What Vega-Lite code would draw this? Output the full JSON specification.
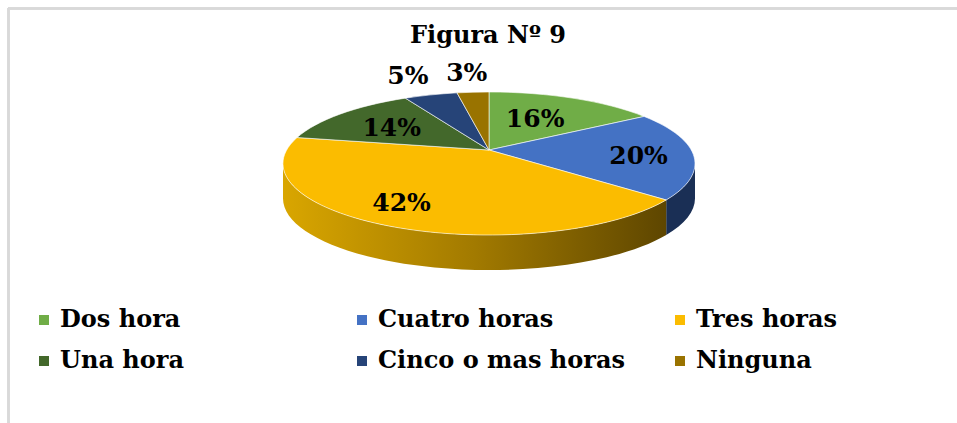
{
"$schema":"https://vega.github.io/schema/vega-lite/v6.json",
"width":957,"height":423,"padding":0,"autosize":{"type":"none"},
"background":"white",
"view":{"stroke":null},
"title":{"text":"Figura Nº 9","font":"DejaVu Serif","fontWeight":"bold","fontSize":24,"color":"#000000","anchor":"start","dx":410,"offset":-67,"baseline":"alphabetic"},
"data":{"values":[
{"ord":1,"name":"Dos hora","value":16},
{"ord":2,"name":"Cuatro horas","value":20},
{"ord":3,"name":"Tres horas","value":42},
{"ord":4,"name":"Una hora","value":14},
{"ord":5,"name":"Cinco o mas horas","value":5},
{"ord":6,"name":"Ninguna","value":3}
]},
"transform":[
{"window":[{"op":"sum","field":"value","as":"cum"}],"sort":[{"field":"ord"}]},
{"calculate":"(datum.cum-datum.value)*3.6*PI/180","as":"t0"},
{"calculate":"datum.cum*3.6*PI/180","as":"t1"},
{"calculate":"round(100*202.3*sin(datum.t0)/(1+0.1888*cos(datum.t0)))/100","as":"x0"},
{"calculate":"round(-100*68.95*cos(datum.t0)/(1+0.1888*cos(datum.t0)))/100","as":"y0"},
{"calculate":"round(100*202.3*sin(datum.t1)/(1+0.1888*cos(datum.t1)))/100","as":"x1"},
{"calculate":"round(-100*68.95*cos(datum.t1)/(1+0.1888*cos(datum.t1)))/100","as":"y1"},
{"calculate":"'M0,0L'+datum.x0+','+datum.y0+'A206,71.5 0 0 1 '+datum.x1+','+datum.y1+'Z'","as":"wedge"},
{"calculate":"max(datum.t0,100.9*PI/180)","as":"c0"},
{"calculate":"min(datum.t1,259.1*PI/180)","as":"c1"},
{"calculate":"round(100*202.3*sin(datum.c0)/(1+0.1888*cos(datum.c0)))/100","as":"sx0"},
{"calculate":"round(-100*68.95*cos(datum.c0)/(1+0.1888*cos(datum.c0)))/100","as":"sy0"},
{"calculate":"round(100*202.3*sin(datum.c1)/(1+0.1888*cos(datum.c1)))/100","as":"sx1"},
{"calculate":"round(-100*68.95*cos(datum.c1)/(1+0.1888*cos(datum.c1)))/100","as":"sy1"},
{"calculate":"'M'+datum.sx0+','+datum.sy0+'A206,71.5 0 0 1 '+datum.sx1+','+datum.sy1+'L'+datum.sx1+','+(datum.sy1+35)+'A206,71.5 0 0 0 '+datum.sx0+','+(datum.sy0+35)+'Z'","as":"side"},
{"calculate":"(datum.t0+datum.t1)/2","as":"tm"},
{"calculate":"datum.value<10?1.25:0.7","as":"r"},
{"calculate":"202.3*datum.r*sin(datum.tm)/(1+0.1888*datum.r*cos(datum.tm))+{'Dos hora':-15,'Cuatro horas':7,'Tres horas':-19,'Una hora':9,'Cinco o mas horas':-11,'Ninguna':-3}[datum.name]","as":"lx"},
{"calculate":"68.95*datum.r*cos(datum.tm)/(1+0.1888*datum.r*cos(datum.tm))+{'Dos hora':-7,'Cuatro horas':-3,'Tres horas':-3,'Una hora':-4,'Cinco o mas horas':8,'Ninguna':8}[datum.name]","as":"ly"},
{"calculate":"datum.value+'%'","as":"pct"}
],
"layer":[
{"mark":{"type":"rule","color":"#d9d9d9","strokeWidth":2},
 "encoding":{"x":{"datum":-481,"scale":{"domain":[-489,468]},"axis":null},"x2":{"datum":468},"y":{"datum":141.5,"scale":{"domain":[-273,150]},"axis":null}}},
{"mark":{"type":"rule","color":"#d9d9d9","strokeWidth":2},
 "encoding":{"x":{"datum":-480.5,"scale":{"domain":[-489,468]},"axis":null},"y":{"datum":142,"scale":{"domain":[-273,150]},"axis":null},"y2":{"datum":-273}}},
{"transform":[{"filter":"datum.name==='Cuatro horas'"}],
 "mark":{"type":"point","filled":true,"opacity":1,"size":4,"fill":"#1a2f55"},
 "encoding":{"x":{"datum":0,"scale":{"domain":[-489,468]},"axis":null},"y":{"datum":0,"scale":{"domain":[-273,150]},"axis":null},"shape":{"field":"side","type":"nominal","scale":null}}},
{"transform":[{"filter":"datum.name==='Tres horas'"}],
 "mark":{"type":"point","filled":true,"opacity":1,"size":4,
  "fill":{"gradient":"linear","x1":0,"x2":1,"y1":0,"y2":0,"stops":[{"offset":0,"color":"#d9a600"},{"offset":0.5,"color":"#a27a00"},{"offset":1,"color":"#5e4600"}]}},
 "encoding":{"x":{"datum":0,"scale":{"domain":[-489,468]},"axis":null},"y":{"datum":0,"scale":{"domain":[-273,150]},"axis":null},"shape":{"field":"side","type":"nominal","scale":null}}},
{"mark":{"type":"point","filled":true,"opacity":1,"size":4,"stroke":"#ffffff","strokeWidth":0.7,"strokeOpacity":0.85},
 "encoding":{"x":{"datum":0,"scale":{"domain":[-489,468]},"axis":null},"y":{"datum":0,"scale":{"domain":[-273,150]},"axis":null},"shape":{"field":"wedge","type":"nominal","scale":null},
 "color":{"field":"name","type":"nominal","sort":null,
  "scale":{"domain":["Dos hora","Cuatro horas","Tres horas","Una hora","Cinco o mas horas","Ninguna"],"range":["#70ad47","#4472c4","#fbbc00","#43682b","#264478","#997300"]},
  "legend":{"orient":"none","legendX":32,"legendY":308,"columns":3,"direction":"horizontal","title":null,"symbolType":"square","symbolSize":100,"symbolStrokeWidth":0,"gridAlign":"all","columnPadding":43,"rowPadding":17,"labelFont":"DejaVu Serif","labelFontWeight":"bold","labelFontSize":24,"labelColor":"#000000","labelLimit":400,"labelOffset":4}}}},
{"mark":{"type":"text","font":"DejaVu Serif","fontWeight":"bold","fontSize":25,"color":"#000000","align":"center","baseline":"middle"},
 "encoding":{"x":{"field":"lx","type":"quantitative","scale":{"domain":[-489,468]},"axis":null},"y":{"field":"ly","type":"quantitative","scale":{"domain":[-273,150]},"axis":null},"text":{"field":"pct"}}}
]
}
